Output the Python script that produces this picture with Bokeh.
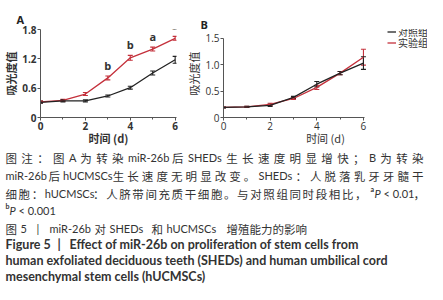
from bokeh.plotting import figure
from bokeh.layouts import column, row
from bokeh.models import (Range1d, Whisker, TeeHead, ColumnDataSource, FixedTicker,
                          LabelSet, Legend, LegendItem)
from bokeh.embed import file_html
from bokeh.resources import INLINE
from bokeh.core.properties import value

# ---------------- data ----------------
days = [0, 1, 2, 3, 4, 5, 6]
x_ticks = [0, 2, 4, 6]
series_names = ["对照组", "实验组"]

a_ctrl = [0.31, 0.34, 0.34, 0.44, 0.61, 0.91, 1.18]
a_ctrl_err = [0.02, 0.02, 0.02, 0.02, 0.03, 0.04, 0.07]
a_exp = [0.32, 0.35, 0.48, 0.81, 1.22, 1.40, 1.62]
a_exp_err = [0.02, 0.02, 0.03, 0.04, 0.05, 0.04, 0.04]
a_sig_days = [3, 4, 5, 6]
a_sig_letters = ["b", "b", "a", "a"]
a_yticks = [0, 0.6, 1.2, 1.8]
a_ylabels = ["0", "0.6", "1.2", "1.8"]

b_ctrl = [0.19, 0.20, 0.23, 0.38, 0.63, 0.84, 1.03]
b_ctrl_err = [0.01, 0.01, 0.02, 0.02, 0.05, 0.03, 0.12]
b_exp = [0.19, 0.20, 0.25, 0.36, 0.57, 0.84, 1.14]
b_exp_err = [0.01, 0.01, 0.02, 0.02, 0.04, 0.03, 0.15]
b_yticks = [0, 0.5, 1.0, 1.5]
b_ylabels = ["0", "0.5", "1.0", "1.5"]

y_label = "吸光度值"
x_label = "时间 (d)"

cap_line1 = ["图", "注", "：", "图", "A", "为", "转", "染", "miR-26b", "后", "SHEDs",
             "生", "长", "速", "度", "明", "显", "增", "快", "；", "B", "为", "转", "染"]
cap_line2 = ["miR-26b", "后", "hUCMSCs", "生", "长", "速", "度", "无", "明", "显", "改", "变", "。",
             "SHEDs", "：", "人", "脱", "落", "乳", "牙", "牙", "髓", "干"]
cap_line3 = ["细", "胞", "：", "hUCMSCs", "：", "人", "脐", "带", "间", "充", "质", "干", "细", "胞", "。",
             "与", "对", "照", "组", "同", "时", "段", "相", "比", "，"]
cap_line3_tail = ["a", "P", "< 0.01", "，"]
cap_line4 = ["b", "P", "< 0.001"]
cap_line5 = [("图", 5), ("5", 20), ("|", 36), ("miR-26b", 49), ("对", 94), ("SHEDs", 109),
             ("和", 151), ("hUCMSCs", 166), ("增殖能力的影响", 226)]
cap_line6 = [("Figure 5", 5), ("|", 57), ("Effect of miR-26b on proliferation of stem cells from", 69)]
cap_line7 = "human exfoliated deciduous teeth (SHEDs) and human umbilical cord"
cap_line8 = "mesenchymal stem cells (hUCMSCs)"

RED = "#c4303b"
BLACK = "#222222"
AXIS = "#555555"
CJK = "Noto Sans CJK SC"
LAT = "Open Sans"
TOP_H = 148
FRAME_BOTTOM = 120   # px from top of the row
AXIS_TOP = 29        # px from top of the row, where the highest tick sits


def make_panel(letter, ctrl, ctrl_err, exp, exp_err, yticks, ylabels, width, left, right, bold,
               title_offset, x_end, frame_top, title_standoff):
    ymax = yticks[-1]
    y_end = ymax * (FRAME_BOTTOM - frame_top) / (FRAME_BOTTOM - AXIS_TOP)
    p = figure(width=width, height=TOP_H, x_range=Range1d(0, x_end), y_range=Range1d(0, y_end),
               output_backend="svg", toolbar_location=None,
               min_border_left=left, min_border_right=right, min_border_top=frame_top,
               min_border_bottom=TOP_H - FRAME_BOTTOM)
    p.outline_line_color = None
    p.xgrid.visible = False
    p.ygrid.visible = False
    p.background_fill_color = None
    p.border_fill_color = None

    p.title.text = letter
    p.title.text_font = LAT
    p.title.text_font_size = "11px"
    p.title.text_font_style = "bold"
    p.title.text_color = "#222222"
    p.title.standoff = title_standoff
    p.title.offset = title_offset

    p.xaxis.ticker = FixedTicker(ticks=x_ticks, minor_ticks=days)
    p.xaxis.bounds = (days[0], days[-1] + 0.06)
    p.yaxis.ticker = FixedTicker(ticks=yticks)
    p.yaxis.bounds = (0, ymax)
    p.yaxis.major_label_overrides = {t: l for t, l in zip(yticks, ylabels)}
    p.xaxis.axis_label = x_label
    p.yaxis.axis_label = y_label
    style = "bold" if bold else "normal"
    for ax in (p.xaxis[0], p.yaxis[0]):
        ax.axis_line_color = AXIS
        ax.major_tick_line_color = AXIS
        ax.minor_tick_line_color = AXIS
        ax.major_tick_out = 3
        ax.major_tick_in = 0
        ax.minor_tick_out = 2
        ax.minor_tick_in = 0
        ax.major_label_standoff = 1
        ax.major_label_text_font = LAT
        ax.major_label_text_font_size = "10px"
        ax.major_label_text_font_style = style
        ax.major_label_text_color = "#333333"
        ax.axis_label_text_font = CJK
        ax.axis_label_text_font_size = "11px"
        ax.axis_label_text_font_style = style
        ax.axis_label_text_color = "#333333"
        ax.axis_label_standoff = 0
    p.xaxis.axis_label_standoff = -3
    p.yaxis.minor_tick_line_color = None

    src = ColumnDataSource(dict(
        x=days, c=ctrl, e=exp,
        cl=[v - d for v, d in zip(ctrl, ctrl_err)], cu=[v + d for v, d in zip(ctrl, ctrl_err)],
        el=[v - d for v, d in zip(exp, exp_err)], eu=[v + d for v, d in zip(exp, exp_err)],
    ))
    re = p.line("x", "e", source=src, line_color=RED, line_width=1.3)
    p.add_layout(Whisker(base="x", lower="el", upper="eu", source=src, line_color=RED,
                         line_width=1.1,
                         upper_head=TeeHead(size=5, line_color=RED, line_width=1.1),
                         lower_head=TeeHead(size=5, line_color=RED, line_width=1.1)))
    rc = p.line("x", "c", source=src, line_color=BLACK, line_width=1.3)
    p.add_layout(Whisker(base="x", lower="cl", upper="cu", source=src, line_color=BLACK,
                         line_width=1.1,
                         upper_head=TeeHead(size=5, line_color=BLACK, line_width=1.1),
                         lower_head=TeeHead(size=5, line_color=BLACK, line_width=1.1)))
    return p, rc, re


pA, rcA, reA = make_panel("A", a_ctrl, a_ctrl_err, a_exp, a_exp_err, a_yticks, a_ylabels,
                          183, 36, 7, True, -24, 6.06, 29, 5)
sig_src = ColumnDataSource(dict(
    x=a_sig_days,
    y=[a_exp[d] + a_exp_err[d] for d in a_sig_days],
    t=a_sig_letters))
pA.add_layout(LabelSet(x="x", y="y", text="t", source=sig_src, y_offset=3,
                       text_align="center", text_baseline="bottom",
                       text_font=value(LAT), text_font_size="11px", text_font_style="bold",
                       text_color="#333333"))

# panel B: frame runs to the right edge and above the top tick, so that the legend sits
# inside it; the x range is widened in proportion (142 px for 0..6 of a 207 px frame).
pB, rcB, reB = make_panel("B", b_ctrl, b_ctrl_err, b_exp, b_exp_err, b_yticks, b_ylabels,
                          244, 37, 0, False, -23, 6 * 207 / 142, 19, -4)
# one single-item legend per series, so that the two rows sit close together
for name, rend, loc_y in ((series_names[0], rcB, 78), (series_names[1], reB, 67)):
    lg = Legend(items=[LegendItem(label=name, renderers=[rend])],
                location=(164, loc_y), padding=0, margin=0, spacing=0,
                glyph_width=9, glyph_height=11, label_height=11, label_standoff=2,
                label_text_font=CJK, label_text_font_size="10px", label_text_color="#333333",
                label_text_line_height=1.0,
                border_line_color=None, background_fill_alpha=0)
    pB.add_layout(lg)

# ---------------- caption ----------------
CAP_H = 136
cap = figure(width=427, height=CAP_H, x_range=Range1d(0, 427), y_range=Range1d(CAP_H, 0),
             output_backend="svg", toolbar_location=None, min_border=0,
             x_axis_location=None, y_axis_location=None)
cap.xgrid.visible = False
cap.ygrid.visible = False
cap.outline_line_color = None
cap.background_fill_color = None
cap.border_fill_color = None

FS = 11.5   # CJK size
FL = 11     # Latin size (Lato)


def is_cjk(s):
    return ord(s[0]) >= 0x2E80


def est_w(s):
    if is_cjk(s):
        return FS * len(s)
    w = 0.0
    for ch in s:
        if ch in "il.,:;|'":
            w += 0.24
        elif ch == "m":
            w += 0.84
        elif ch in "rtf-()":
            w += 0.34
        elif ch == " ":
            w += 0.22
        elif ch.isupper():
            w += 0.64
        else:
            w += 0.52
    return w * FL


def justify(tokens, x0, x1):
    ws = [est_w(t) for t in tokens]
    gap = (x1 - x0 - sum(ws)) / (len(tokens) - 1)
    xs, x = [], x0
    for w in ws:
        xs.append(x)
        x += w + gap
    return xs


cjk = dict(x=[], y=[], t=[])
lat = dict(x=[], y=[], t=[])
ital = dict(x=[], y=[], t=[])
sup = dict(x=[], y=[], t=[])
bold = dict(x=[], y=[], t=[])


def put(d, t, x, y):
    d["x"].append(x)
    d["y"].append(y - TOP_H)
    d["t"].append(t)


def put_auto(t, x, y):
    put(cjk if is_cjk(t) else lat, t, x, y)


ys = [157, 175, 193, 210, 228, 244, 260, 276]
for tokens, y, x1 in ((cap_line1, ys[0], 423), (cap_line2, ys[1], 423), (cap_line3, ys[2], 366)):
    for t, x in zip(tokens, justify(tokens, 5, x1)):
        put_auto(t, x, y)

put(sup, cap_line3_tail[0], 370, ys[2] - 5)
put(ital, cap_line3_tail[1], 374, ys[2])
put(lat, cap_line3_tail[2], 383, ys[2])
put(cjk, cap_line3_tail[3], 413, ys[2])
put(sup, cap_line4[0], 5, ys[3] - 5)
put(ital, cap_line4[1], 9, ys[3])
put(lat, cap_line4[2], 18, ys[3])
for t, x in cap_line5:
    put_auto(t, x, ys[4])
for t, x in cap_line6:
    put(bold, t, x, ys[5])
put(bold, cap_line7, 5, ys[6])
put(bold, cap_line8, 5, ys[7])

common = dict(text_baseline="middle", text_align="left", text_color="#333333")
cap.text(x="x", y="y", text="t", source=ColumnDataSource(cjk), text_font=value(CJK),
         text_font_size=f"{FS}px", **common)
cap.text(x="x", y="y", text="t", source=ColumnDataSource(lat), text_font=value("Lato"),
         text_font_size=f"{FL}px", **common)
cap.text(x="x", y="y", text="t", source=ColumnDataSource(ital), text_font=value("Lato"),
         text_font_size=f"{FL}px", text_font_style="italic", **common)
cap.text(x="x", y="y", text="t", source=ColumnDataSource(sup), text_font=value("Lato"),
         text_font_size="7px", text_font_style="bold", **common)
cap.text(x="x", y="y", text="t", source=ColumnDataSource(bold), text_font=value("Lato"),
         text_font_size="12.5px", text_font_style="bold", **common)

layout = column(row(pA, pB, spacing=0), cap, spacing=0)
open("out.html", "w").write(file_html(layout, INLINE))
